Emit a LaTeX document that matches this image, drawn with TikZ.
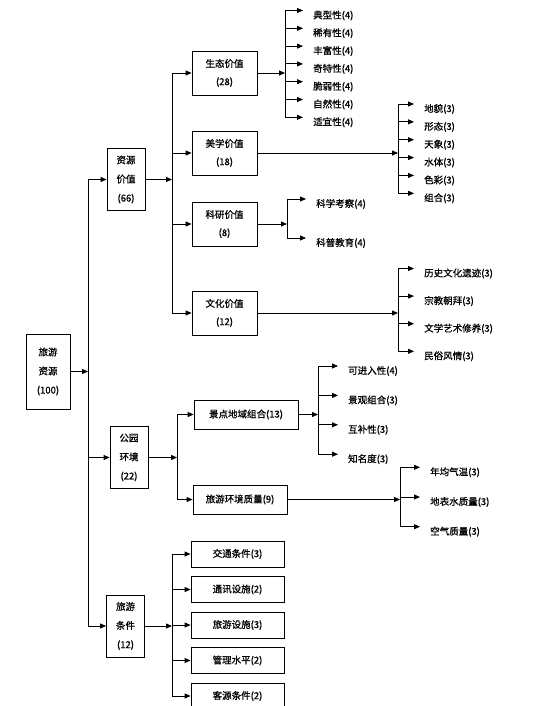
\documentclass[tikz,border=0pt]{standalone}
\usepackage{fontspec}
\setmainfont{Noto Sans CJK SC}[FakeBold=0.8]
\usetikzlibrary{arrows.meta}

\begin{document}
\begin{tikzpicture}[x=1pt, y=-1pt,
    box/.style={draw, line width=0.8pt, align=center, inner sep=1pt,
      font=\fontsize{9.5}{18}\selectfont},
    tallbox/.style={box, minimum width=38pt, minimum height=62pt,
      font=\fontsize{9.5}{19}\selectfont},
    leaf/.style={anchor=west, inner xsep=10pt, inner ysep=1pt,
      font=\fontsize{9.5}{11}\selectfont},
    link/.style={line width=0.8pt},
    arr/.style={link, -{Triangle[length=6pt, width=5pt]}}
  ]
  \useasboundingbox (0,0) rectangle (536,706);

  % root and first level
  \node[tallbox, minimum width=44pt, minimum height=75pt] (root) at (48,371.5) {旅游\\资源\\(100)};
  \node[tallbox] (zy) at (126,179.5) {资源\\价值\\(66)};
  \node[tallbox] (gy) at (129,457.5) {公园\\环境\\(22)};
  \node[tallbox] (tj) at (125.5,626) {旅游\\条件\\(12)};
  \coordinate (j0) at (88,0);
  \draw[arr] (root) -- (root -| j0);
  \draw[link] (zy -| j0) -- (tj -| j0);
  \foreach \n in {zy,gy,tj} \draw[arr] (\n -| j0) -- (\n);

  % resource value
  \node[box, minimum width=65pt, minimum height=44pt] (st) at (224.5,73) {生态价值\\(28)};
  \node[box, minimum width=65pt, minimum height=44pt] (mx) at (224.5,153) {美学价值\\(18)};
  \node[box, minimum width=65pt, minimum height=44pt] (ky) at (224.5,224) {科研价值\\(8)};
  \node[box, minimum width=65pt, minimum height=44pt] (wh) at (224.5,313) {文化价值\\(12)};
  \coordinate (j1) at (172,0);
  \draw[arr] (zy) -- (zy -| j1);
  \draw[link] (st -| j1) -- (wh -| j1);
  \foreach \n in {st,mx,ky,wh} \draw[arr] (\n -| j1) -- (\n);

  \coordinate (j11) at (285,0);
  \foreach \t [count=\i] in {典型性(4),稀有性(4),丰富性(4),奇特性(4),脆弱性(4),自然性(4),适宜性(4)}
    \node[leaf] (st\i) at (303,15.5+17.8*\i-17.8) {\t};
  \draw[arr] (st) -- (st -| j11);
  \draw[link] ([yshift=5pt]st1.west -| j11) -- ([yshift=5pt]st7.west -| j11);
  \foreach \i in {1,...,7} \draw[arr] ([yshift=5pt]st\i.west -| j11) -- ([yshift=5pt]st\i.west);

  \coordinate (j12) at (398,0);
  \foreach \t [count=\i] in {地貌(3),形态(3),天象(3),水体(3),色彩(3),组合(3)}
    \node[leaf] (mx\i) at (414,109+17.86*\i-17.86) {\t};
  \draw[arr] (mx) -- (mx -| j12);
  \draw[link] ([yshift=5pt]mx1.west -| j12) -- ([yshift=5pt]mx6.west -| j12);
  \foreach \i in {1,...,6} \draw[arr] ([yshift=5pt]mx\i.west -| j12) -- ([yshift=5pt]mx\i.west);

  \coordinate (j13) at (287,0);
  \node[leaf] (ky1) at (306,204) {科学考察(4)};
  \node[leaf] (ky2) at (306,243) {科普教育(4)};
  \draw[arr] (ky) -- (ky -| j13);
  \draw[link] ([yshift=5pt]ky1.west -| j13) -- ([yshift=5pt]ky2.west -| j13);
  \foreach \i in {1,2} \draw[arr] ([yshift=5pt]ky\i.west -| j13) -- ([yshift=5pt]ky\i.west);

  \coordinate (j14) at (398,0);
  \foreach \t [count=\i] in {历史文化遗迹(3),宗教朝拜(3),文学艺术修养(3),民俗风情(3)}
    \node[leaf] (wh\i) at (414,273.5+27.6*\i-27.6) {\t};
  \draw[arr] (wh) -- (wh -| j14);
  \draw[link] ([yshift=5pt]wh1.west -| j14) -- ([yshift=5pt]wh4.west -| j14);
  \foreach \i in {1,...,4} \draw[arr] ([yshift=5pt]wh\i.west -| j14) -- ([yshift=5pt]wh\i.west);

  % park environment
  \node[box, minimum width=104pt, minimum height=29pt] (jd) at (246,414.5) {景点地域组合(13)};
  \node[box, minimum width=94pt, minimum height=29pt] (hj) at (240,499.5) {旅游环境质量(9)};
  \coordinate (j2) at (177,0);
  \draw[arr] (gy) -- (gy -| j2);
  \draw[link] (jd -| j2) -- (hj -| j2);
  \foreach \n in {jd,hj} \draw[arr] (\n -| j2) -- (\n);

  \coordinate (j21) at (318,0);
  \foreach \t [count=\i] in {可进入性(4),景观组合(3),互补性(3),知名度(3)}
    \node[leaf] (jd\i) at (338,371+29.4*\i-29.4) {\t};
  \draw[arr] (jd) -- (jd -| j21);
  \draw[link] ([yshift=5pt]jd1.west -| j21) -- ([yshift=5pt]jd4.west -| j21);
  \foreach \i in {1,...,4} \draw[arr] ([yshift=5pt]jd\i.west -| j21) -- ([yshift=5pt]jd\i.west);

  \coordinate (j22) at (400,0);
  \foreach \t [count=\i] in {年均气温(3),地表水质量(3),空气质量(3)}
    \node[leaf] (hj\i) at (420,472.3+29.7*\i-29.7) {\t};
  \draw[arr] (hj) -- (hj -| j22);
  \draw[link] ([yshift=5pt]hj1.west -| j22) -- ([yshift=5pt]hj3.west -| j22);
  \foreach \i in {1,...,3} \draw[arr] ([yshift=5pt]hj\i.west -| j22) -- ([yshift=5pt]hj\i.west);

  % tourism conditions
  \coordinate (j3) at (172,0);
  \foreach \t [count=\i] in {交通条件(3),通讯设施(2),旅游设施(3),管理水平(2),客源条件(2)}
    \node[box, minimum width=93pt, minimum height=26pt] (tj\i) at (237.5,554+35.5*\i-35.5) {\t};
  \draw[arr] (tj) -- (tj -| j3);
  \draw[link] (tj1 -| j3) -- (tj5 -| j3);
  \foreach \i in {1,...,5} \draw[arr] (tj\i -| j3) -- (tj\i);
\end{tikzpicture}
\end{document}
